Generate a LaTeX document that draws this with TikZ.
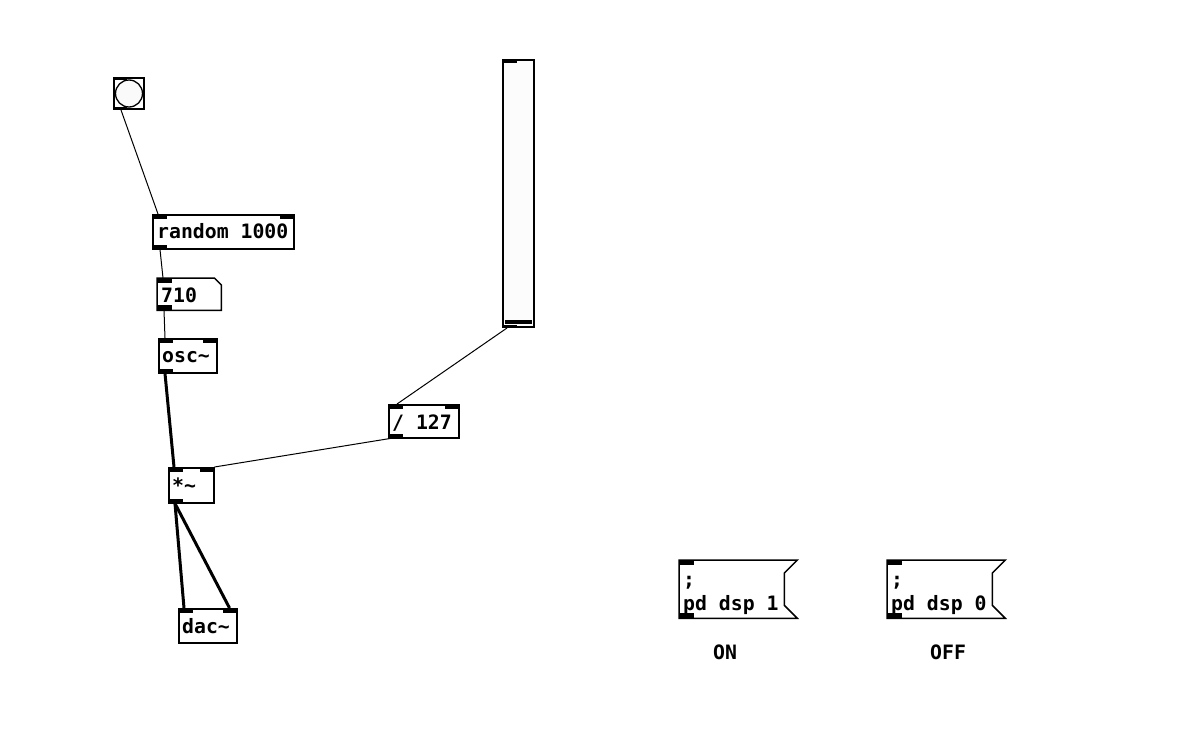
\documentclass[tikz,border=0pt]{standalone}
\usepackage{fontspec}
\newfontfamily\pdfont{DejaVu Sans Mono}
\usetikzlibrary{calc,positioning}
\tikzset{
  pdbox/.style={rectangle, draw, line width=1.5pt, fill=white, inner sep=0pt, anchor=north west},
  pdtext/.style={inner sep=0pt, anchor=base west, font=\pdfont\bfseries\fontsize{19.8}{24}\selectfont},
  iolet/.style={fill=black},
  ctlwire/.style={line width=1pt},
  sigwire/.style={line width=3pt},
}
\begin{document}
\begin{tikzpicture}[x=1pt, y=-1pt]
    \useasboundingbox (0,0) rectangle (1196,739);

    % bang
    \node[pdbox, line width=2pt, minimum width=30, minimum height=31] (bng) at (113,77) {};
    \draw[line width=1.3pt, fill=black!2] (bng.center) circle[radius=13.5pt];
    \fill[iolet] (bng.north west) rectangle ++(14,3);
    \fill[iolet] (bng.south west) rectangle ++(14,-3);

    % random 1000
    \node[pdbox, minimum width=141, minimum height=34] (rnd) at (152,214) {};
    \node[pdtext] (rndtxt) at ($(rnd.north west)+(5,24.5)$) {random 1000};
    \fill[iolet] (rnd.north west) rectangle ++(15,5);
    \fill[iolet] (rnd.north east) rectangle ++(-15,5);
    \fill[iolet] (rnd.south west) rectangle ++(15,-5);

    % number box
    \node[rectangle, inner sep=0pt, anchor=north west, minimum width=64, minimum height=32] (num) at (157,278) {};
    \draw[line width=1.5pt, fill=white] (num.north west) -- ($(num.north east)+(-7,0)$) -- ($(num.north east)+(0,7)$)
        -- (num.south east) -- (num.south west) -- cycle;
    \node[pdtext] (numtxt) at ($(num.north west)+(4,24.5)$) {710};
    \fill[iolet] (num.north west) rectangle ++(15,5);
    \fill[iolet] (num.south west) rectangle ++(15,-5);

    % osc~
    \node[pdbox, minimum width=58, minimum height=34] (osc) at (158,338) {};
    \node[pdtext] (osctxt) at ($(osc.north west)+(4,24.5)$) {osc\char`\~};
    \fill[iolet] (osc.north west) rectangle ++(15,5);
    \fill[iolet] (osc.north east) rectangle ++(-15,5);
    \fill[iolet] (osc.south west) rectangle ++(15,-5);

    % *~
    \node[pdbox, minimum width=45, minimum height=35] (mul) at (168,467) {};
    \node[pdtext] (multxt) at ($(mul.north west)+(4,25)$) {*\char`\~};
    \fill[iolet] (mul.north west) rectangle ++(15,5);
    \fill[iolet] (mul.north east) rectangle ++(-15,5);
    \fill[iolet] (mul.south west) rectangle ++(15,-5);

    % dac~
    \node[pdbox, minimum width=58, minimum height=34] (dac) at (178,608) {};
    \node[pdtext] (dactxt) at ($(dac.north west)+(4,25)$) {dac\char`\~};
    \fill[iolet] (dac.north west) rectangle ++(15,5);
    \fill[iolet] (dac.north east) rectangle ++(-15,5);

    % slider
    \node[pdbox, line width=2pt, fill=black!1, minimum width=31, minimum height=267] (sld) at (502,59) {};
    \fill[iolet] (sld.north west) rectangle ++(15,4);
    \fill[iolet] (sld.south west) rectangle ++(15,-3);
    \fill[iolet] ($(sld.south west)+(3,-8)$) rectangle ($(sld.south east)+(-3,-4)$);

    % / 127
    \node[pdbox, minimum width=70, minimum height=33] (dvd) at (388,404) {};
    \node[pdtext] (dvdtxt) at ($(dvd.north west)+(4,25)$) {/ 127};
    \fill[iolet] (dvd.north west) rectangle ++(15,5);
    \fill[iolet] (dvd.north east) rectangle ++(-15,5);
    \fill[iolet] (dvd.south west) rectangle ++(15,-5);

    % messages
    \foreach \nm/\xx/\val in {msgon/679/1, msgoff/887/0} {
        \node[rectangle, inner sep=0pt, anchor=north west, minimum width=118, minimum height=58] (\nm) at (\xx,560) {};
        \draw[line width=1.5pt, fill=white] (\nm.north west) -- (\nm.north east) -- ($(\nm.north east)+(-13,13)$)
            -- ($(\nm.south east)+(-13,-13)$) -- (\nm.south east) -- (\nm.south west) -- cycle;
        \node[pdtext] (\nm a) at ($(\nm.north west)+(4,26)$) {;};
        \node[pdtext] (\nm b) at ($(\nm.north west)+(4,50)$) {pd dsp \val};
        \fill[iolet] (\nm.north west) rectangle ++(15,5);
        \fill[iolet] (\nm.south west) rectangle ++(15,-5);
    }
    \node[pdtext] (ontxt) at (713,659) {ON};
    \node[pdtext] (offtxt) at (930,659) {OFF};

    % wires
    \draw[ctlwire] ($(bng.south west)+(8,0)$) -- ($(rnd.north west)+(6,0)$);
    \draw[ctlwire] ($(rnd.south west)+(8,0)$) -- ($(num.north west)+(6,0)$);
    \draw[ctlwire] ($(num.south west)+(7,0)$) -- ($(osc.north west)+(7,0)$);
    \draw[sigwire] ($(osc.south west)+(7,0)$) -- ($(mul.north west)+(6,0)$);
    \draw[ctlwire] ($(sld.south west)+(5,0)$) -- ($(dvd.north west)+(9,0)$);
    \draw[ctlwire] ($(dvd.south west)+(2,0)$) -- (mul.north east);
    \draw[sigwire] ($(mul.south west)+(7,0)$) -- ($(dac.north west)+(6,0)$);
    \draw[sigwire] ($(mul.south west)+(7,0)$) -- ($(dac.north east)+(-8,0)$);
\end{tikzpicture}
\end{document}
